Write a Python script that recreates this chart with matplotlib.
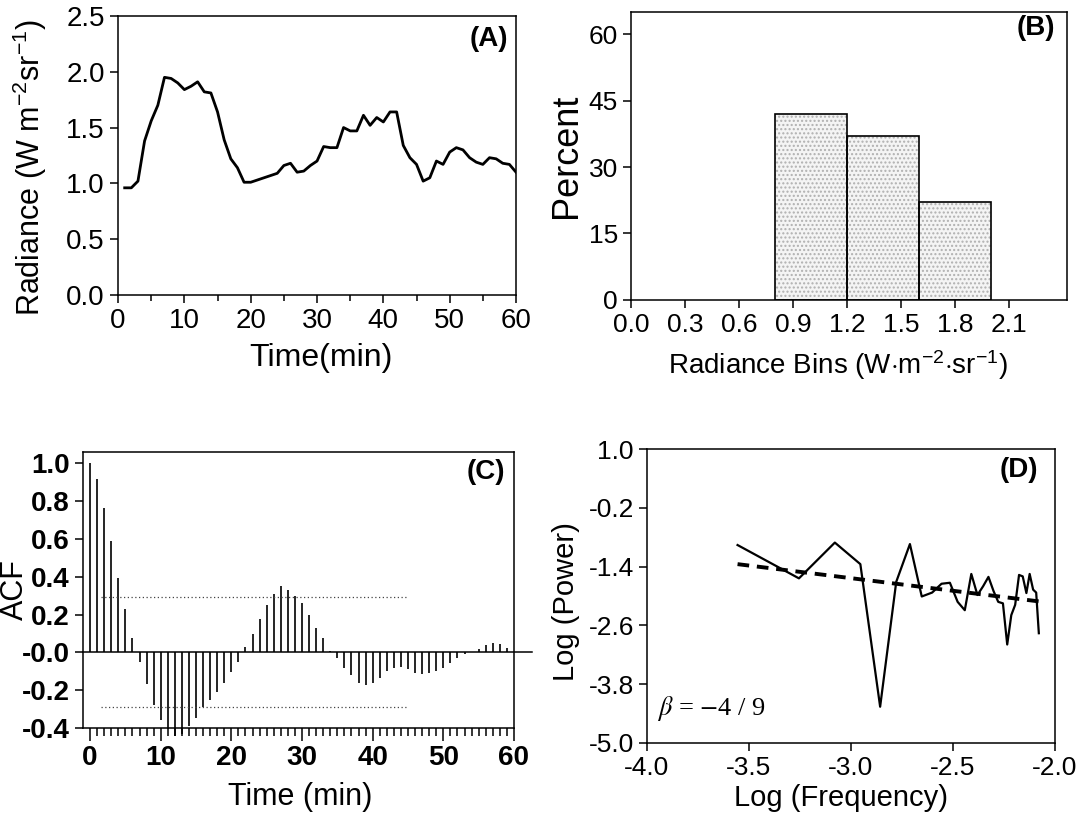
import numpy as np
import matplotlib
matplotlib.use('Agg')
import matplotlib.pyplot as plt

plt.rcParams['font.family'] = ['Liberation Sans', 'DejaVu Sans']
plt.rcParams['mathtext.fontset'] = 'custom'
plt.rcParams['mathtext.rm'] = 'Liberation Sans'
plt.rcParams['mathtext.it'] = 'Liberation Sans:italic'
plt.rcParams['axes.linewidth'] = 1.1

# (A) radiance time series, one reading per minute
time_min = np.arange(1, 61)
radiance = [0.96, 0.96, 1.02, 1.38, 1.56, 1.70, 1.95, 1.94, 1.90, 1.84,
            1.87, 1.91, 1.82, 1.81, 1.64, 1.39, 1.22, 1.14, 1.01, 1.01,
            1.03, 1.05, 1.07, 1.09, 1.16, 1.18, 1.10, 1.11, 1.16, 1.20,
            1.33, 1.32, 1.32, 1.50, 1.47, 1.47, 1.61, 1.52, 1.59, 1.55,
            1.64, 1.64, 1.34, 1.23, 1.17, 1.02, 1.05, 1.20, 1.17, 1.28,
            1.32, 1.30, 1.23, 1.19, 1.17, 1.23, 1.22, 1.18, 1.17, 1.10]

# (B) histogram of radiance
bin_edges = [0.8, 1.2, 1.6, 2.0]
percent = [42, 37, 22]
b_ticks = ['0.0', '0.3', '0.6', '0.9', '1.2', '1.5', '1.8', '2.1']

# (C) autocorrelation, lags 0..59
lags = np.arange(0, 60)
acf = [1.0, 0.915, 0.766, 0.587, 0.396, 0.228, 0.075, -0.053, -0.167, -0.28,
       -0.36, -0.405, -0.44, -0.43, -0.39, -0.347, -0.29, -0.25, -0.21, -0.16,
       -0.105, -0.049, 0.026, 0.10, 0.179, 0.249, 0.309, 0.349, 0.33, 0.30,
       0.263, 0.196, 0.131, 0.074, 0.01, -0.03, -0.08, -0.12, -0.16, -0.175,
       -0.16, -0.137, -0.10, -0.08, -0.075, -0.09, -0.107, -0.114, -0.11, -0.10,
       -0.08, -0.058, -0.032, -0.01, 0.0, 0.02, 0.04, 0.05, 0.045, 0.025]
conf_band = [0.295, -0.29]
conf_span = [1.5, 45]
c_yticks = [1.0, 0.8, 0.6, 0.4, 0.2, 0.0, -0.2, -0.4]
c_ylabels = ['1.0', '0.8', '0.6', '0.4', '0.2', '-0.0', '-0.2', '-0.4']

# (D) power spectrum
log_freq = [-3.556, -3.255, -3.079, -2.954, -2.857, -2.778, -2.711, -2.653,
            -2.602, -2.556, -2.515, -2.477, -2.442, -2.410, -2.380, -2.352,
            -2.326, -2.301, -2.278, -2.255, -2.234, -2.214, -2.195, -2.176,
            -2.158, -2.140, -2.124, -2.107, -2.092, -2.079]
log_power = [-0.96, -1.64, -0.91, -1.35, -4.26, -1.71, -0.94, -2.01,
             -1.93, -1.75, -1.73, -2.12, -2.29, -1.55, -1.98, -1.80,
             -1.61, -1.90, -2.12, -2.15, -2.99, -2.39, -2.18, -1.57,
             -1.60, -1.94, -1.55, -1.87, -1.93, -2.76]
fit_x = [-3.556, -2.079]
fit_y = [-1.35, -2.11]
d_yticks = [1.0, -0.2, -1.4, -2.6, -3.8, -5.0]

fig = plt.figure(figsize=(10.85, 8.18), dpi=100)
axA = fig.add_axes([0.1088, 0.6394, 0.3668, 0.3411])
axB = fig.add_axes([0.5816, 0.6333, 0.4018, 0.3521])
axC = fig.add_axes([0.0765, 0.1100, 0.3972, 0.3374])
axD = fig.add_axes([0.5963, 0.0917, 0.3760, 0.3594])

for ax in (axA, axB, axC, axD):
    ax.tick_params(direction='out', width=1.1, length=6, top=False, right=False)


def place_labels(ax, xl, yl, xpos, ypos, xsize, ysize):
    ax.set_xlabel(xl, fontsize=xsize, va='center')
    ax.set_ylabel(yl, fontsize=ysize, va='center')
    ax.xaxis.set_label_coords(*xpos)
    ax.yaxis.set_label_coords(*ypos)


def panel_tag(ax, tag, x, y):
    ax.text(x, y, tag, transform=ax.transAxes, ha='center', va='center',
            fontsize=20, fontweight='bold')


# --- A
axA.plot(time_min, radiance, color='black', lw=2.0)
axA.set_xlim(0, 60)
axA.set_ylim(0, 2.5)
axA.set_xticks(range(0, 61, 10))
axA.set_xticks(range(5, 60, 10), minor=True)
axA.tick_params(axis='x', which='minor', direction='out', length=4, width=1.1)
axA.set_yticks([0, 0.5, 1.0, 1.5, 2.0, 2.5])
axA.set_yticklabels(['0.0', '0.5', '1.0', '1.5', '2.0', '2.5'])
axA.tick_params(axis='both', labelsize=20)
place_labels(axA, 'Time(min)', r'Radiance (W m$^{-2}$sr$^{-1}$)',
             (0.51, -0.226), (-0.221, 0.455), 23, 22)
panel_tag(axA, '(A)', 0.932, 0.918)

# --- B
widths = np.diff(bin_edges)
axB.bar(bin_edges[:-1], percent, width=widths, align='edge', facecolor='#f4f4f4',
        edgecolor='#b0b0b0', hatch='....', linewidth=0)
axB.bar(bin_edges[:-1], percent, width=widths, align='edge', fill=False,
        edgecolor='black', linewidth=1.2)
axB.set_xlim(0, 2.42)
axB.set_ylim(0, 65)
axB.set_xticks([0, 0.3, 0.6, 0.9, 1.2, 1.5, 1.8, 2.1])
axB.set_xticklabels(b_ticks)
axB.set_yticks([0, 15, 30, 45, 60])
axB.tick_params(axis='both', labelsize=19)
place_labels(axB, r'Radiance Bins (W$\cdot$m$^{-2}$$\cdot$sr$^{-1}$)', 'Percent',
             (0.475, -0.226), (-0.149, 0.5), 20, 26)
panel_tag(axB, '(B)', 0.929, 0.944)

# --- C
axC.vlines(lags, 0, acf, color='black', lw=1.2, clip_on=False)
axC.plot([-1, 62.5], [0, 0], color='black', lw=1.1, clip_on=False)
for lvl in conf_band:
    axC.plot(conf_span, [lvl, lvl], color='#444444', lw=0.9, ls=(0, (1, 2)))
axC.set_xlim(-1, 60)
axC.set_ylim(-0.4, 1.06)
axC.set_xticks(range(0, 61, 10))
axC.set_xticks(range(0, 61), minor=True)
axC.tick_params(axis='x', which='major', length=9)
axC.tick_params(axis='x', which='minor', direction='out', length=6, width=1.1)
axC.set_yticks(c_yticks)
axC.set_yticklabels(c_ylabels)
axC.tick_params(axis='both', labelsize=20)
for lab in axC.get_xticklabels() + axC.get_yticklabels():
    lab.set_fontweight('bold')
place_labels(axC, 'Time (min)', 'ACF', (0.505, -0.25), (-0.157, 0.5), 22, 22)
panel_tag(axC, '(C)', 0.934, 0.929)

# --- D
axD.plot(log_freq, log_power, color='black', lw=1.6)
axD.plot(fit_x, fit_y, color='black', lw=2.8, ls=(0, (3, 2)))
axD.set_xlim(-4.0, -2.0)
axD.set_ylim(-5.0, 1.0)
axD.set_xticks([-4.0, -3.5, -3.0, -2.5, -2.0])
axD.set_xticklabels(['-4.0', '-3.5', '-3.0', '-2.5', '-2.0'])
axD.set_yticks(d_yticks)
axD.set_yticklabels(['1.0', '-0.2', '-1.4', '-2.6', '-3.8', '-5.0'])
axD.tick_params(axis='both', labelsize=19)
place_labels(axD, 'Log (Frequency)', 'Log (Power)', (0.475, -0.186), (-0.199, 0.48), 21, 21)
panel_tag(axD, '(D)', 0.911, 0.929)
axD.text(-3.95, -4.30, r'$\beta$ = $-$4 / 9', fontsize=19, va='center',
         family='Liberation Serif', math_fontfamily='stix')

fig.savefig('out.png', dpi=100)
